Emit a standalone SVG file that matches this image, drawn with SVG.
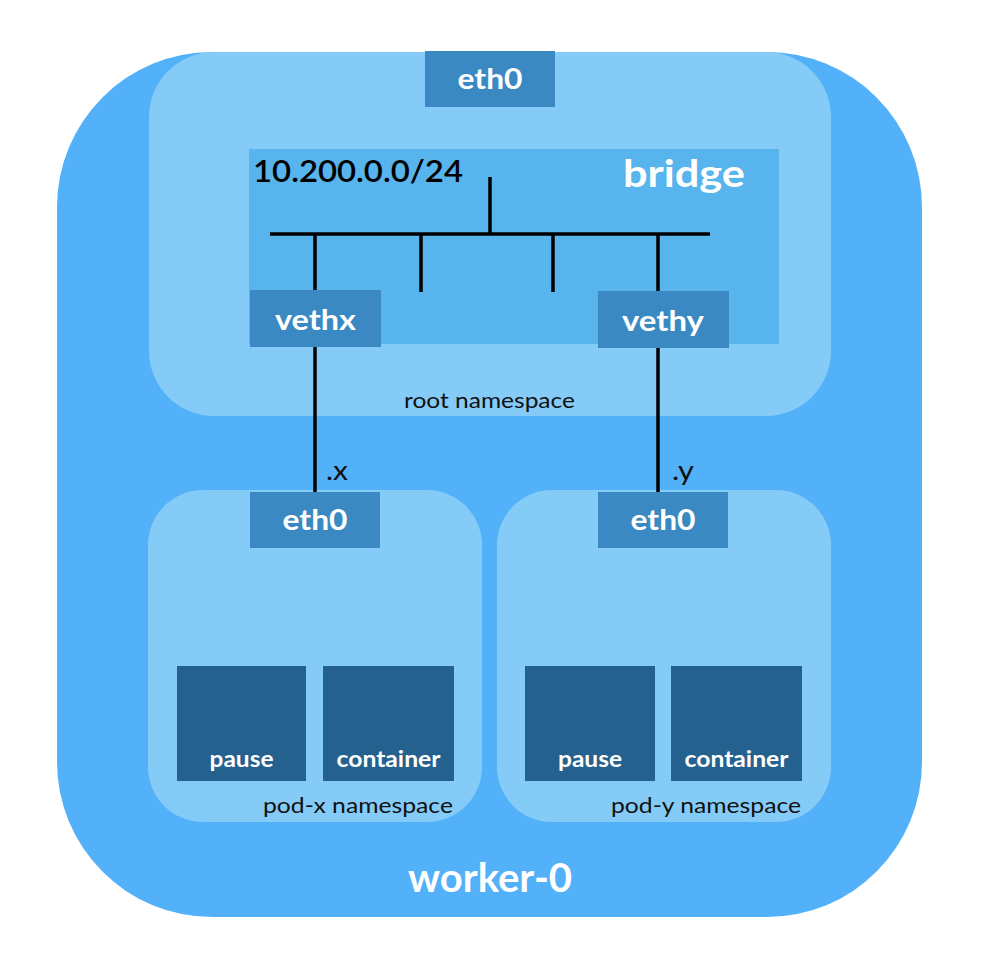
<svg xmlns="http://www.w3.org/2000/svg" width="982" height="968" viewBox="0 0 982 968">
<style>
.ns{fill:#84cbf7}
.eth{fill:#3b89c3}
.box{fill:#25618e}
.wl{fill:#fff;font-family:Lato,"Open Sans",sans-serif;font-weight:bold;text-anchor:middle}
.bl{fill:#111;font-family:Lato,"Open Sans",sans-serif;font-size:21px}
.ln{stroke:#000;stroke-width:3.5;fill:none}
</style>
<rect width="982" height="968" fill="#fff"/>
<g id="worker-0">
<rect x="57" y="52" width="865" height="865" rx="155" ry="155" fill="#52b1f8"/>
<text class="wl" x="490" y="892" font-size="40" textLength="164" lengthAdjust="spacingAndGlyphs">worker-0</text>
</g>
<g id="root-namespace">
<rect class="ns" x="149" y="52" width="682" height="364" rx="65" ry="65"/>
<text class="bl" x="404" y="408" textLength="171" lengthAdjust="spacingAndGlyphs">root namespace</text>
</g>
<g id="bridge">
<rect x="249" y="149" width="530" height="195" fill="#58b4ec"/>
<text class="wl" x="684" y="187" font-size="38" textLength="122" lengthAdjust="spacingAndGlyphs">bridge</text>
<text x="253" y="182" font-family="Lato,'Open Sans',sans-serif" font-size="30" font-weight="600" fill="#000" textLength="210" lengthAdjust="spacingAndGlyphs">10.200.0.0/24</text>
</g>
<g id="eth0-root">
<rect class="eth" x="425" y="51" width="130" height="56"/>
<text class="wl" x="490" y="89" font-size="29" textLength="65" lengthAdjust="spacingAndGlyphs">eth0</text>
</g>
<g id="pod-x">
<rect class="ns" x="148" y="490" width="334" height="332" rx="55" ry="55"/>
<text class="bl" x="263" y="813" textLength="190" lengthAdjust="spacingAndGlyphs">pod-x namespace</text>
</g>
<g id="pod-y">
<rect class="ns" x="497" y="490" width="334" height="332" rx="55" ry="55"/>
<text class="bl" x="611" y="813" textLength="190" lengthAdjust="spacingAndGlyphs">pod-y namespace</text>
</g>
<g id="connectors">
<line class="ln" x1="270" y1="234" x2="710" y2="234"/>
<line class="ln" x1="490" y1="177" x2="490" y2="234"/>
<line class="ln" x1="315" y1="234" x2="315" y2="492"/>
<line class="ln" x1="421" y1="234" x2="421" y2="292"/>
<line class="ln" x1="553" y1="234" x2="553" y2="292"/>
<line class="ln" x1="658" y1="234" x2="658" y2="492"/>
</g>
<g id="vethx">
<rect class="eth" x="250" y="290" width="131" height="57"/>
<text class="wl" x="315.5" y="330" font-size="29" textLength="81" lengthAdjust="spacingAndGlyphs">vethx</text>
</g>
<g id="vethy">
<rect class="eth" x="598" y="291" width="131" height="57"/>
<text class="wl" x="663" y="331" font-size="29" textLength="82" lengthAdjust="spacingAndGlyphs">vethy</text>
</g>
<g id="eth0-x">
<rect class="eth" x="250" y="492" width="130" height="56"/>
<text class="wl" x="315" y="530" font-size="29" textLength="65" lengthAdjust="spacingAndGlyphs">eth0</text>
<text x="326" y="480" font-family="Lato,'Open Sans',sans-serif" font-size="26" fill="#111" textLength="22" lengthAdjust="spacingAndGlyphs">.x</text>
</g>
<g id="eth0-y">
<rect class="eth" x="598" y="492" width="130" height="56"/>
<text class="wl" x="663" y="530" font-size="29" textLength="65" lengthAdjust="spacingAndGlyphs">eth0</text>
<text x="672" y="480" font-family="Lato,'Open Sans',sans-serif" font-size="26" fill="#111" textLength="22" lengthAdjust="spacingAndGlyphs">.y</text>
</g>
<g id="pause-x">
<rect class="box" x="177" y="666" width="129" height="115"/>
<text class="wl" x="241.5" y="767" font-size="22" textLength="64" lengthAdjust="spacingAndGlyphs">pause</text>
</g>
<g id="container-x">
<rect class="box" x="323" y="666" width="131" height="115"/>
<text class="wl" x="388.5" y="767" font-size="22" textLength="104" lengthAdjust="spacingAndGlyphs">container</text>
</g>
<g id="pause-y">
<rect class="box" x="525" y="666" width="130" height="115"/>
<text class="wl" x="590" y="767" font-size="22" textLength="64" lengthAdjust="spacingAndGlyphs">pause</text>
</g>
<g id="container-y">
<rect class="box" x="671" y="666" width="131" height="115"/>
<text class="wl" x="736.5" y="767" font-size="22" textLength="104" lengthAdjust="spacingAndGlyphs">container</text>
</g>
</svg>
